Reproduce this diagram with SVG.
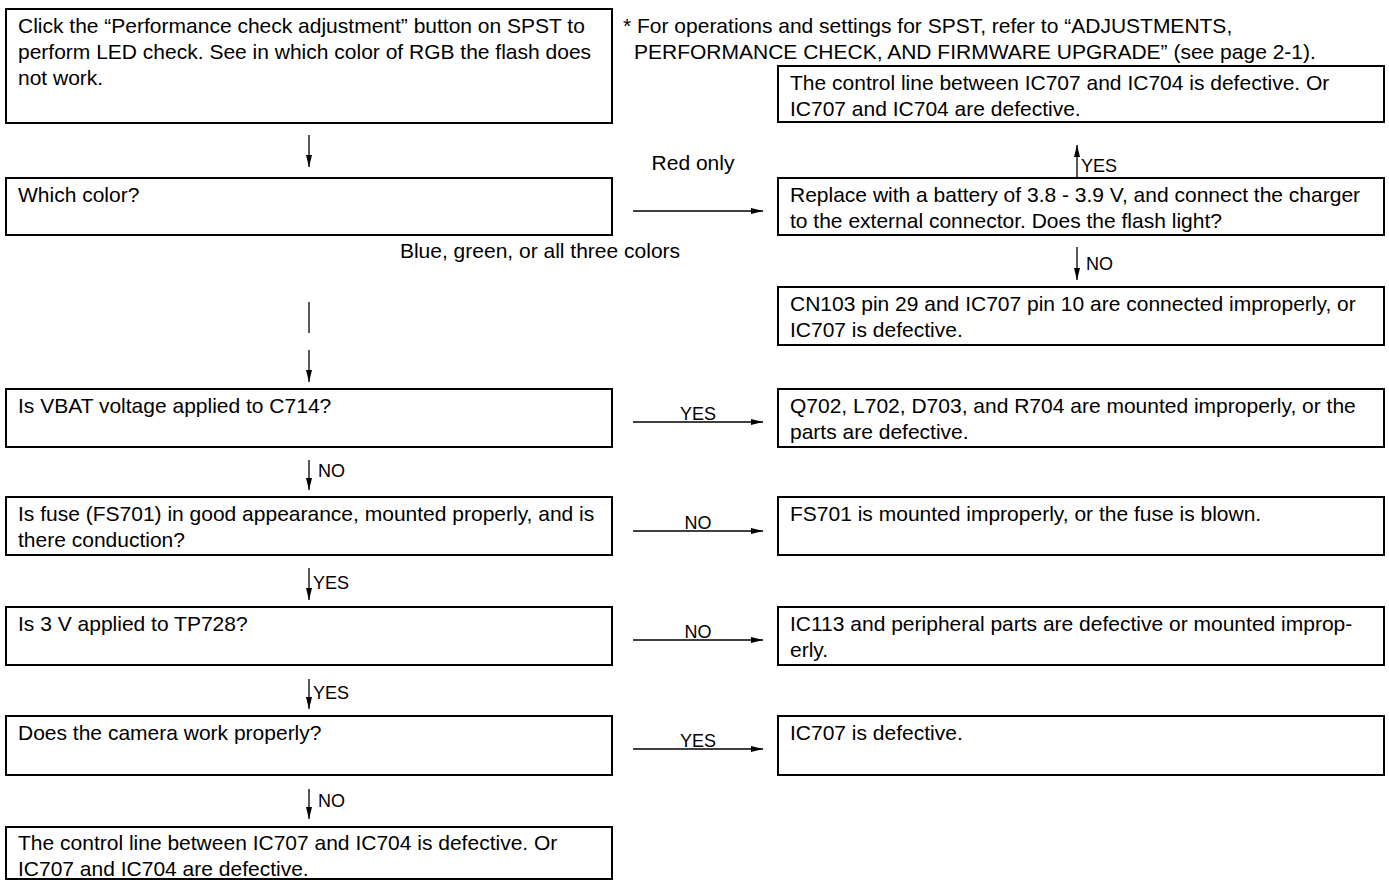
<svg xmlns="http://www.w3.org/2000/svg" width="1389" height="880" viewBox="0 0 1389 880">
<defs>
<style>
.box{fill:#fff;stroke:#000;stroke-width:2}
.t{font-family:"Liberation Sans",Arial,sans-serif;font-size:21px;fill:#000}
.lbl{font-family:"Liberation Sans",Arial,sans-serif;font-size:18px;fill:#000}
.lblc{font-family:"Liberation Sans",Arial,sans-serif;font-size:18px;fill:#000;text-anchor:middle}
.big{font-family:"Liberation Sans",Arial,sans-serif;font-size:21px;fill:#000}
.ln{stroke:#000;stroke-width:1.3;fill:none}
</style>
<marker id="ah" viewBox="0 0 12 6" refX="12" refY="3" markerWidth="12" markerHeight="6" markerUnits="userSpaceOnUse" orient="auto">
<path d="M0,0 L12,3 L0,6 Z" fill="#000"/>
</marker>
</defs>
<rect width="1389" height="880" fill="#fff"/>

<text class="big" x="623" y="33">* For operations and settings for SPST, refer to “ADJUSTMENTS,</text>
<text class="big" x="634" y="59">PERFORMANCE CHECK, AND FIRMWARE UPGRADE” (see page 2-1).</text>

<g id="n-start"><rect class="box" x="6" y="9" width="606" height="114"/>
<text class="t" x="18" y="33">Click the “Performance check adjustment” button on SPST to</text>
<text class="t" x="18" y="59">perform LED check. See in which color of RGB the flash does</text>
<text class="t" x="18" y="85">not work.</text></g>

<g id="n-which"><rect class="box" x="6" y="178" width="606" height="57"/>
<text class="t" x="18" y="202">Which color?</text></g>

<g id="n-vbat"><rect class="box" x="6" y="389" width="606" height="58"/>
<text class="t" x="18" y="413">Is VBAT voltage applied to C714?</text></g>

<g id="n-fuse"><rect class="box" x="6" y="497" width="606" height="58"/>
<text class="t" x="18" y="521">Is fuse (FS701) in good appearance, mounted properly, and is</text>
<text class="t" x="18" y="547">there conduction?</text></g>

<g id="n-tp728"><rect class="box" x="6" y="607" width="606" height="58"/>
<text class="t" x="18" y="631">Is 3 V applied to TP728?</text></g>

<g id="n-camera"><rect class="box" x="6" y="716" width="606" height="59"/>
<text class="t" x="18" y="740">Does the camera work properly?</text></g>

<g id="n-final"><rect class="box" x="6" y="827" width="606" height="52"/>
<text class="t" x="18" y="850">The control line between IC707 and IC704 is defective. Or</text>
<text class="t" x="18" y="876">IC707 and IC704 are defective.</text></g>

<g id="n-r1"><rect class="box" x="778" y="66" width="606" height="56"/>
<text class="t" x="790" y="90">The control line between IC707 and IC704 is defective. Or</text>
<text class="t" x="790" y="116">IC707 and IC704 are defective.</text></g>

<g id="n-replace"><rect class="box" x="778" y="178" width="606" height="57"/>
<text class="t" x="790" y="202">Replace with a battery of 3.8 - 3.9 V, and connect the charger</text>
<text class="t" x="790" y="228">to the external connector. Does the flash light?</text></g>

<g id="n-cn103"><rect class="box" x="778" y="287" width="606" height="58"/>
<text class="t" x="790" y="311">CN103 pin 29 and IC707 pin 10 are connected improperly, or</text>
<text class="t" x="790" y="337">IC707 is defective.</text></g>

<g id="n-q702"><rect class="box" x="778" y="389" width="606" height="58"/>
<text class="t" x="790" y="413">Q702, L702, D703, and R704 are mounted improperly, or the</text>
<text class="t" x="790" y="439">parts are defective.</text></g>

<g id="n-fs701"><rect class="box" x="778" y="497" width="606" height="58"/>
<text class="t" x="790" y="521">FS701 is mounted improperly, or the fuse is blown.</text></g>

<g id="n-ic113"><rect class="box" x="778" y="607" width="606" height="58"/>
<text class="t" x="790" y="631">IC113 and peripheral parts are defective or mounted improp-</text>
<text class="t" x="790" y="657">erly.</text></g>

<g id="n-ic707"><rect class="box" x="778" y="716" width="606" height="59"/>
<text class="t" x="790" y="740">IC707 is defective.</text></g>

<g id="connectors">
<line class="ln" x1="309" y1="135" x2="309" y2="167" marker-end="url(#ah)"/>
<line class="ln" x1="309" y1="302" x2="309" y2="333"/>
<line class="ln" x1="309" y1="350" x2="309" y2="382" marker-end="url(#ah)"/>
<line class="ln" x1="309" y1="460" x2="309" y2="490" marker-end="url(#ah)"/>
<line class="ln" x1="309" y1="568" x2="309" y2="600" marker-end="url(#ah)"/>
<line class="ln" x1="309" y1="679" x2="309" y2="709" marker-end="url(#ah)"/>
<line class="ln" x1="309" y1="789" x2="309" y2="819" marker-end="url(#ah)"/>
<line class="ln" x1="1077" y1="177" x2="1077" y2="145" marker-end="url(#ah)"/>
<line class="ln" x1="1077" y1="247" x2="1077" y2="280" marker-end="url(#ah)"/>
<line class="ln" x1="633" y1="211" x2="763" y2="211" marker-end="url(#ah)"/>
<line class="ln" x1="633" y1="422" x2="763" y2="422" marker-end="url(#ah)"/>
<line class="ln" x1="633" y1="531" x2="763" y2="531" marker-end="url(#ah)"/>
<line class="ln" x1="633" y1="640" x2="763" y2="640" marker-end="url(#ah)"/>
<line class="ln" x1="633" y1="749" x2="763" y2="749" marker-end="url(#ah)"/>
<text class="big" x="693" y="170" text-anchor="middle">Red only</text>
<text class="big" x="540" y="258" text-anchor="middle">Blue, green, or all three colors</text>
<text class="lblc" x="698" y="420">YES</text>
<text class="lblc" x="698" y="529">NO</text>
<text class="lblc" x="698" y="638">NO</text>
<text class="lblc" x="698" y="747">YES</text>
<text class="lbl" x="318" y="477">NO</text>
<text class="lbl" x="313" y="589">YES</text>
<text class="lbl" x="313" y="699">YES</text>
<text class="lbl" x="318" y="807">NO</text>
<text class="lbl" x="1081" y="172">YES</text>
<text class="lbl" x="1086" y="270">NO</text>
</g>
</svg>
